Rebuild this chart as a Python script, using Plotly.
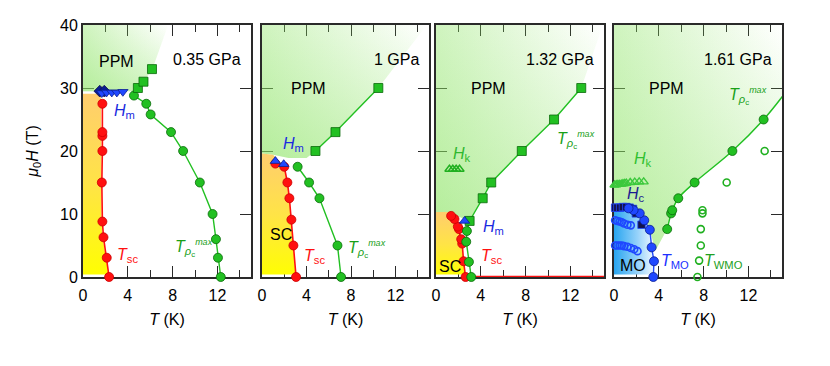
import plotly.graph_objects as go

FONT = "Liberation Sans, Arial, sans-serif"

# ---------------- data (T in K, H in T) ----------------
# panel 1 : 0.35 GPa
p1_tsc_T = [2.33, 2.12, 1.83, 1.73, 1.68, 1.73, 1.73, 1.73, 1.73]
p1_tsc_H = [0, 3.06, 6.3, 8.8, 15, 20, 22.4, 23, 27.5]
p1_hm_T = [1.68, 2.1, 2.57, 3.02, 3.56]
p1_hm_H = [29.2, 29.3, 29.3, 29.3, 29.4]
p1_hm2_T = [1.5, 1.9]
p1_hm2_H = [29.5, 29.5]
p1_trho_T = [12.3, 12.05, 11.87, 11.57, 10.43, 8.94, 7.86, 6.04, 5.65, 4.55]
p1_trho_H = [0, 3.06, 6, 10, 15, 20, 23, 25.8, 27.5, 28.8]
p1_sq_T = [4.9, 5.4, 6.16]
p1_sq_H = [30, 31, 33]
p1_ppm_T = [0, 4.4, 5.2, 6.2, 7.6, 0]
p1_ppm_H = [29.5, 29.5, 30.5, 33, 40, 40]
p1_sc_T = [0, 1.6, 1.65, 1.65, 1.75, 2.05, 2.28, 0]
p1_sc_H = [29.1, 29.1, 20, 9, 6.3, 3, 0.4, 0.4]

# panel 2 : 1 GPa
p2_tsc_T = [3.06, 2.82, 2.64, 2.46, 2.28, 2.0, 1.2]
p2_tsc_H = [0, 5, 9.1, 12.5, 15, 17.5, 18.0]
p2_hm_T = [1.2, 1.95]
p2_hm_H = [18.4, 17.9]
p2_trho_T = [7.1, 6.78, 5.16, 4.23, 3.2]
p2_trho_H = [0, 5, 12.5, 15, 17.5]
p2_sq_T = [4.8, 6.6, 10.45]
p2_sq_H = [20, 23, 30]
p2_ppm_T = [0, 1.0, 2.4, 4.0, 4.8, 6.6, 10.45, 14.8, 0]
p2_ppm_H = [19.6, 19.4, 18.9, 18.9, 20, 23, 30, 40, 40]
p2_sc_T = [0, 1.0, 2.0, 2.28, 2.46, 2.64, 2.82, 3.0, 0]
p2_sc_H = [19.6, 19.4, 17.5, 15, 12.5, 9.1, 5, 0.4, 0.4]

# panel 3 : 1.32 GPa
p3_tsc_T = [2.64, 2.46, 2.34, 2.25, 2.05, 1.95, 1.65, 1.35]
p3_tsc_H = [0, 2.5, 5.3, 6.0, 7.6, 8.0, 9.2, 9.7]
p3_zero_T = [2.64, 15]
p3_zero_H = [0, 0]
p3_hm_T = [2.55]
p3_hm_H = [8.9]
p3_hk_T = [1.2, 1.5, 1.8, 2.1]
p3_hk_H = [17.1, 17.1, 17.1, 17.1]
p3_trho_T = [3.15, 2.94, 2.7, 2.76]
p3_trho_H = [0, 2.4, 5.6, 7.3]
p3_sq_T = [3.0, 4.17, 4.93, 7.66, 10.54, 12.97]
p3_sq_H = [8.9, 12.5, 15, 20, 25, 30]
p3_ppm_T = [0, 1.2, 2.0, 3.0, 4.17, 4.93, 7.66, 10.54, 12.97, 14.9, 0]
p3_ppm_H = [10.3, 10.3, 9.6, 8.9, 12.5, 15, 20, 25, 30, 40, 40]
p3_sc_T = [0, 1.2, 1.65, 1.95, 2.25, 2.46, 2.62, 0]
p3_sc_H = [10.3, 10.3, 9.2, 8.0, 6.0, 2.5, 0.4, 0.4]

# panel 4 : 1.61 GPa
p4_trho_T = [4.75, 5.1, 5.2, 5.74, 7.2, 10.57, 13.36]
p4_trho_H = [7.6, 10.1, 10.6, 12.5, 15, 20, 25]
p4_trho_end_T = [15.1]
p4_trho_end_H = [28.8]
p4_twmo_T = [7.45, 7.6, 7.75, 7.75, 7.9, 7.9, 10.06, 13.45]
p4_twmo_H = [0, 2.6, 5, 7.6, 10.1, 10.6, 15, 20]
p4_tmo_T = [3.51, 3.57, 3.36, 3.2, 2.7, 2.3, 1.75, 1.3]
p4_tmo_H = [0, 2.5, 4.7, 7.5, 9.0, 10.1, 10.6, 10.9]
p4_hc_T = [0.1, 0.3, 0.55, 0.8, 1.1, 1.4, 1.7, 1.95, 2.46]
p4_hc_H = [11.0, 11.0, 11.0, 11.1, 11.1, 11.0, 10.8, 10.1, 8.3]
p4_mo1_T = [0.1, 0.3, 0.5, 0.7, 0.9, 1.2, 1.5]
p4_mo1_H = [9.0, 8.9, 8.8, 8.7, 8.5, 8.3, 8.2]
p4_mo2_T = [0.1, 0.3, 0.5, 0.7, 0.9, 1.2, 1.5, 1.8, 2.1]
p4_mo2_H = [5.0, 5.0, 5.0, 5.0, 4.9, 4.8, 4.6, 4.4, 4.1]
p4_hk_T = [0.05, 0.2, 0.35, 0.5, 0.65, 0.8, 0.95, 1.1, 1.45, 1.85, 2.25, 2.65]
p4_hk_H = [14.6, 14.65, 14.7, 14.7, 14.75, 14.8, 14.85, 14.9, 15.0, 15.05, 15.1, 15.1]
p4_ppm_T = [0, 1.5, 2.3, 3.2, 3.7, 4.75, 5.1, 5.74, 7.2, 10.57, 13.36, 15.1, 15.1, 0]
p4_ppm_H = [11.6, 11.4, 10.0, 7.5, 4.2, 7.6, 10.1, 12.5, 15, 20, 25, 28.8, 40, 40]
p4_mo_T = [0, 1.6, 2.3, 3.2, 3.36, 3.5, 3.45, 0]
p4_mo_H = [11.2, 10.9, 10.1, 7.5, 4.7, 2.5, 0.4, 0.4]

pressures = ["0.35 GPa", "1 GPa", "1.32 GPa", "1.61 GPa"]
x_ticks = [0, 4, 8, 12]
y_ticks = [0, 10, 20, 30, 40]

# ---------------- styles ----------------
RED = "#ff1010"
RED_D = "#cc0000"
GRN = "#22c022"
GRN_D = "#0a6a0a"
GRN_L = "#20b020"
BLU = "#1f48ff"
BLU_D = "#0a1e90"
NAVY = "#12124a"

fig = go.Figure()


def ax(i):
    return ("x" if i == 1 else f"x{i}"), ("y" if i == 1 else f"y{i}")


def region_green(i, T, H):
    xa, ya = ax(i)
    fig.add_trace(go.Scatter(x=T, y=H, xaxis=xa, yaxis=ya, mode="lines", line=dict(width=0),
                             fill="toself", hoverinfo="skip",
                             fillgradient=dict(type="horizontal", start=0, stop=max(T),
                                               colorscale=[[0, "rgba(140,228,100,0.42)"],
                                                           [1, "rgba(140,228,100,0)"]])))
    fig.add_trace(go.Scatter(x=T, y=H, xaxis=xa, yaxis=ya, mode="lines", line=dict(width=0),
                             fill="toself", hoverinfo="skip",
                             fillgradient=dict(type="vertical", start=min(H), stop=40,
                                               colorscale=[[0, "rgba(140,228,100,0.38)"],
                                                           [1, "rgba(140,228,100,0)"]])))


def region_sc(i, T, H):
    xa, ya = ax(i)
    fig.add_trace(go.Scatter(x=T, y=H, xaxis=xa, yaxis=ya, mode="lines", line=dict(width=0),
                             fill="toself", hoverinfo="skip",
                             fillgradient=dict(type="vertical", start=0, stop=max(H),
                                               colorscale=[[0, "rgb(255,255,0)"],
                                                           [0.5, "rgb(255,228,70)"],
                                                           [1, "rgb(255,205,110)"]])))


def region_mo(i, T, H):
    xa, ya = ax(i)
    fig.add_trace(go.Scatter(x=T, y=H, xaxis=xa, yaxis=ya, mode="lines", line=dict(width=0),
                             fill="toself", hoverinfo="skip",
                             fillgradient=dict(type="horizontal", start=0, stop=max(T),
                                               colorscale=[[0, "rgb(40,165,240)"],
                                                           [0.6, "rgb(150,210,250)"],
                                                           [1, "rgb(235,246,255)"]])))


def line(i, T, H, color, width=1.4, shape="linear"):
    xa, ya = ax(i)
    fig.add_trace(go.Scatter(x=T, y=H, xaxis=xa, yaxis=ya, mode="lines",
                             line=dict(color=color, width=width, shape=shape), hoverinfo="skip"))


def markers(i, T, H, symbol, fill, edge, size=9, lw=0.8):
    xa, ya = ax(i)
    fig.add_trace(go.Scatter(x=T, y=H, xaxis=xa, yaxis=ya, mode="markers", cliponaxis=False,
                             marker=dict(symbol=symbol, color=fill, size=size,
                                         line=dict(color=edge, width=lw)),
                             hoverinfo="skip"))


# ---- regions ----
region_green(1, p1_ppm_T, p1_ppm_H)
region_sc(1, p1_sc_T, p1_sc_H)
region_green(2, p2_ppm_T, p2_ppm_H)
region_sc(2, p2_sc_T, p2_sc_H)
region_green(3, p3_ppm_T, p3_ppm_H)
region_sc(3, p3_sc_T, p3_sc_H)
region_green(4, p4_ppm_T, p4_ppm_H)
region_mo(4, p4_mo_T, p4_mo_H)

# ---- panel 1 ----
line(1, p1_trho_T, p1_trho_H, GRN)
line(1, p1_tsc_T, p1_tsc_H, RED, 1.6)
markers(1, p1_trho_T, p1_trho_H, "circle", GRN, GRN_D)
markers(1, p1_sq_T, p1_sq_H, "square", GRN, GRN_D)
markers(1, p1_tsc_T, p1_tsc_H, "circle", RED, RED_D)
markers(1, p1_hm2_T, p1_hm2_H, "diamond", BLU_D, NAVY, 9)
markers(1, p1_hm_T, p1_hm_H, "triangle-down", BLU, BLU_D, 9)

# ---- panel 2 ----
line(2, p2_trho_T, p2_trho_H, GRN)
line(2, p2_sq_T, p2_sq_H, GRN)
line(2, p2_tsc_T, p2_tsc_H, RED, 1.6)
markers(2, p2_trho_T, p2_trho_H, "circle", GRN, GRN_D)
markers(2, p2_sq_T, p2_sq_H, "square", GRN, GRN_D)
markers(2, p2_tsc_T, p2_tsc_H, "circle", RED, RED_D)
markers(2, p2_hm_T, p2_hm_H, "triangle-up", BLU, BLU_D, 9)

# ---- panel 3 ----
line(3, p3_zero_T, p3_zero_H, RED, 2.5)
line(3, p3_trho_T + p3_sq_T, p3_trho_H + p3_sq_H, GRN)
line(3, p3_tsc_T, p3_tsc_H, RED, 1.6)
markers(3, p3_hk_T, p3_hk_H, "triangle-up-open", GRN_L, GRN_L, 8, 1.4)
markers(3, p3_sq_T, p3_sq_H, "square", GRN, GRN_D)
markers(3, p3_tsc_T, p3_tsc_H, "circle", RED, RED_D)
markers(3, p3_trho_T, p3_trho_H, "circle", GRN, GRN_D)
markers(3, p3_hm_T, p3_hm_H, "triangle-up", BLU, BLU_D, 9)

# ---- panel 4 ----
line(4, p4_trho_T + p4_trho_end_T, p4_trho_H + p4_trho_end_H, GRN, 1.4, "spline")
line(4, p4_tmo_T, p4_tmo_H, BLU, 1.4)
markers(4, p4_hk_T, p4_hk_H, "triangle-up-open", "#3cc83c", "#3cc83c", 8, 1.4)
markers(4, p4_twmo_T, p4_twmo_H, "circle-open", GRN_L, GRN_L, 7, 1.6)
markers(4, p4_trho_T, p4_trho_H, "circle", GRN, GRN_D)
markers(4, p4_mo1_T, p4_mo1_H, "circle-open", BLU, BLU, 7, 1.6)
markers(4, p4_mo2_T, p4_mo2_H, "circle-open", BLU, BLU, 7, 1.6)
markers(4, p4_hc_T, p4_hc_H, "square", NAVY, BLU, 7.5, 0.8)
markers(4, p4_tmo_T, p4_tmo_H, "circle", BLU, BLU_D)

# ---------------- annotations ----------------
TRHO = ("<i>T</i><sub><i>ρ</i><sub>c</sub></sub>"
        "<sup><span style='font-size:9px'><i>max</i></span></sup>")
TSC = "<i>T</i><sub>sc</sub>"
ann = []


def label(i, x, y, text, color="black", size=16, anchor="left"):
    xa, ya = ax(i)
    ann.append(dict(xref=xa, yref=ya, x=x, y=y, text=text, showarrow=False,
                    xanchor=anchor, yanchor="middle",
                    font=dict(family=FONT, size=size, color=color)))


for i, p in enumerate(pressures, start=1):
    label(i, 14.3, 34.6, p, anchor="right")
label(1, 3.0, 34.2, "PPM", anchor="center")
label(2, 4.15, 30.0, "PPM", anchor="center")
label(3, 4.65, 30.0, "PPM", anchor="center")
label(4, 4.65, 30.0, "PPM", anchor="center")

label(1, 2.6, 26.3, "<i>H</i><sub>m</sub>", "#1a2ae0", 16)
label(1, -0.05, 4.4, "SC")
label(1, 2.9, 3.4, TSC, RED, 16)
label(1, 8.0, 4.6, TRHO, "#18a018", 16)

label(2, 1.7, 21.0, "<i>H</i><sub>m</sub>", "#1a2ae0", 16)
label(2, 0.5, 6.8, "SC")
label(2, 3.6, 3.2, TSC, RED, 16)
label(2, 7.5, 4.4, TRHO, "#18a018", 16)

label(3, 1.3, 19.5, "<i>H</i><sub>k</sub>", "#30b830", 16)
label(3, 4.0, 7.9, "<i>H</i><sub>m</sub>", "#1a2ae0", 16)
label(3, 3.8, 3.2, TSC, RED, 16)
label(3, 10.6, 21.8, TRHO, "#18a018", 16)
label(3, 0.05, 1.7, "SC")

label(4, 10.1, 28.7, TRHO, "#18a018", 16)
label(4, 1.6, 18.6, "<i>H</i><sub>k</sub>", "#30c030", 16)
label(4, 1.0, 13.1, "<i>H</i><sub>c</sub>", "#1a1a90", 16)
label(4, 0.35, 1.8, "MO")
label(4, 4.0, 2.4, "<i>T</i><sub>MO</sub>", "#2030ff", 16)
label(4, 7.9, 2.4, "<i>T</i><sub>WMO</sub>", "#22a022", 16)

# ---------------- layout ----------------
W, H = 830, 366
OFF = 8  # page body margin of the browser
xdoms = [(83, 251), (262, 429), (436, 604), (614, 782)]
ydom = [(366 - 277 + OFF) / H, (366 - 25 + OFF) / H]
AXC = "#2a2a2a"

layout = dict(width=W, height=H, margin=dict(l=0, r=0, t=0, b=0),
              paper_bgcolor="white", plot_bgcolor="white", showlegend=False,
              font=dict(family=FONT, size=16, color="black"), annotations=ann)

for i, (a, b) in enumerate(xdoms, start=1):
    xk = "xaxis" if i == 1 else f"xaxis{i}"
    yk = "yaxis" if i == 1 else f"yaxis{i}"
    xa, ya = ax(i)
    layout[xk] = dict(domain=[(a - OFF) / W, (b - OFF) / W], anchor=ya, range=[0, 15],
                      tickvals=x_ticks, ticks="inside", ticklen=11, tickwidth=1.4,
                      tickcolor=AXC, showline=True, linewidth=1.8, linecolor=AXC,
                      mirror="ticks", showgrid=False, zeroline=False,
                      minor=dict(dtick=2, tick0=0, ticks="inside", ticklen=7,
                                 tickwidth=1.4, tickcolor=AXC, showgrid=False),
                      tickfont=dict(size=16, color="black"), ticklabelstandoff=3,
                      title=dict(text="<i>T</i> (K)", font=dict(size=16), standoff=11),
                      layer="below traces", automargin=False, fixedrange=True)
    layout[yk] = dict(domain=ydom, anchor=xa, range=[0, 40], tickvals=y_ticks,
                      ticks="inside", ticklen=11, tickwidth=1.4, tickcolor=AXC,
                      showline=True, linewidth=1.8, linecolor=AXC, mirror="ticks",
                      showgrid=False, zeroline=False, showticklabels=(i == 1),
                      tickfont=dict(size=16, color="black"),
                      layer="below traces", automargin=False, fixedrange=True)

layout["yaxis"]["title"] = dict(text="<i>μ</i><sub>0</sub><i>H</i> (T)",
                                font=dict(size=16), standoff=18)

fig.update_layout(**layout)
fig.write_html("out.html")
